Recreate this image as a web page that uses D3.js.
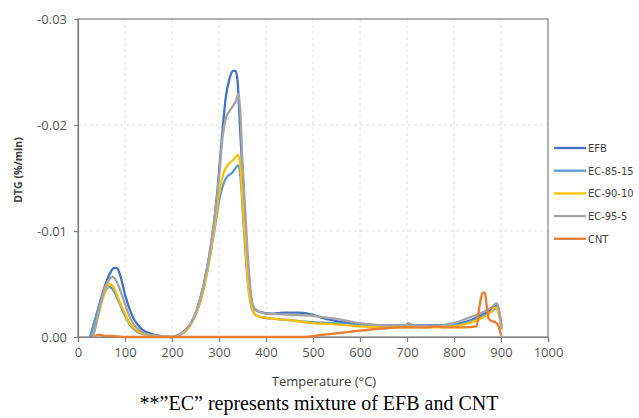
<!DOCTYPE html>
<html>
<head>
<meta charset="utf-8">
<script src="https://cdn.jsdelivr.net/npm/d3@7"></script>
<style>
  body { margin: 0; background: #fff; }
  svg { display: block; }
  .tick text { font-family: "Open Sans", sans-serif; font-size: 13px; fill: #595959; }
  .legend text { font-family: "DejaVu Sans", sans-serif; font-stretch: condensed; font-size: 11px; fill: #404040; }
</style>
</head>
<body>
<div id="chart"></div>
<script>
// series names and colours (legend order)
const seriesNames = ["EFB", "EC-85-15", "EC-90-10", "EC-95-5", "CNT"];
const seriesColors = ["#4472C4", "#5B9BD5", "#FFC000", "#A5A5A5", "#ED7D31"];

// [temperature °C, DTG %/min]
const efb = [[26,0],[40,-0.0022],[55,-0.0045],[68,-0.006],[76,-0.0065],[83,-0.0065],[90,-0.0058],[100,-0.0040],[110,-0.0026],[120,-0.0016],[130,-0.0010],[140,-0.0006],[155,-0.0003],[175,-0.0001],[200,0],[215,-0.0002],[230,-0.0007],[245,-0.0017],[260,-0.0036],[275,-0.0066],[290,-0.0110],[300,-0.0155],[308,-0.0198],[315,-0.0228],[322,-0.0243],[330,-0.0251],[335,-0.0251],[339,-0.0244],[345,-0.0195],[350,-0.0155],[357,-0.0100],[363,-0.0060],[368,-0.0037],[374,-0.0027],[385,-0.0024],[410,-0.0022],[440,-0.0023],[470,-0.0023],[500,-0.0021],[520,-0.0018],[550,-0.0015],[600,-0.0012],[650,-0.0011],[700,-0.0011],[750,-0.0011],[800,-0.0012],[830,-0.0015],[860,-0.0021],[880,-0.0026],[892,-0.0030],[897,-0.0022],[901,-0.0009]];
const ec8515 = [[26,0],[40,-0.0022],[55,-0.0040],[66,-0.0047],[72,-0.0046],[80,-0.0040],[90,-0.0030],[100,-0.0020],[110,-0.0012],[120,-0.0007],[130,-0.0004],[145,-0.0002],[170,-0.0001],[200,0],[215,-0.0002],[230,-0.0006],[245,-0.0016],[260,-0.0033],[275,-0.0062],[290,-0.0100],[300,-0.0128],[310,-0.0145],[317,-0.0151],[328,-0.0155],[336,-0.0160],[341,-0.0162],[346,-0.0150],[351,-0.0115],[357,-0.0075],[363,-0.0045],[370,-0.0027],[380,-0.0020],[400,-0.0018],[450,-0.0016],[500,-0.0014],[550,-0.0013],[600,-0.0011],[650,-0.0010],[700,-0.0010],[750,-0.0010],[800,-0.0011],[830,-0.0014],[860,-0.0019],[880,-0.0024],[890,-0.0027],[897,-0.0020],[901,-0.0008]];
const ec9010 = [[32,0],[44,-0.0022],[57,-0.0042],[67,-0.0050],[73,-0.0049],[80,-0.0043],[90,-0.0032],[100,-0.0022],[110,-0.0013],[120,-0.0008],[130,-0.0005],[145,-0.0002],[170,-0.0001],[200,0],[215,-0.0002],[230,-0.0006],[245,-0.0016],[260,-0.0033],[275,-0.0062],[290,-0.0103],[300,-0.0135],[310,-0.0155],[320,-0.0163],[330,-0.0167],[336,-0.0170],[340,-0.0172],[345,-0.0163],[350,-0.0128],[356,-0.0088],[362,-0.0050],[370,-0.0028],[380,-0.0020],[400,-0.0018],[450,-0.0016],[500,-0.0013],[550,-0.0012],[600,-0.0010],[650,-0.0009],[700,-0.0010],[750,-0.0009],[800,-0.0010],[830,-0.0013],[860,-0.0018],[880,-0.0024],[888,-0.0028],[896,-0.0020],[901,-0.0007]];
const ec955 = [[32,0],[44,-0.0023],[58,-0.0047],[68,-0.0055],[74,-0.0057],[80,-0.0054],[90,-0.0044],[100,-0.0031],[110,-0.0019],[120,-0.0011],[130,-0.0007],[145,-0.0003],[170,-0.0001],[200,0],[215,-0.0002],[230,-0.0007],[245,-0.0017],[260,-0.0036],[275,-0.0066],[290,-0.0110],[300,-0.0150],[308,-0.0190],[315,-0.0207],[322,-0.0213],[330,-0.0218],[336,-0.0223],[341,-0.0229],[345,-0.0215],[350,-0.0165],[357,-0.0110],[362,-0.0072],[367,-0.0045],[373,-0.0029],[385,-0.0024],[400,-0.0022],[450,-0.0021],[500,-0.0020],[550,-0.0017],[600,-0.0013],[650,-0.0011],[695,-0.0011],[703,-0.0013],[712,-0.0011],[750,-0.0010],[800,-0.0013],[830,-0.0018],[860,-0.0023],[880,-0.0028],[891,-0.0032],[897,-0.0022],[902,-0.0008]];
const cnt = [[35,0],[40,-0.0002],[48,-0.0002],[55,-0.0001],[70,-0.0001],[100,0],[200,0],[300,0],[400,0],[480,0],[520,-0.0002],[560,-0.0004],[600,-0.0006],[650,-0.0008],[700,-0.0009],[740,-0.0009],[760,-0.0010],[780,-0.0009],[820,-0.0009],[848,-0.0010],[852,-0.0022],[857,-0.0036],[862,-0.0042],[866,-0.0041],[870,-0.0028],[874,-0.0017],[880,-0.0015],[888,-0.0014],[894,-0.0011],[898,-0.0005],[901,-0.0001]];
const seriesData = [efb, ec8515, ec9010, ec955, cnt];

const xTicks = [0, 100, 200, 300, 400, 500, 600, 700, 800, 900, 1000];
const yTicks = [0, -0.01, -0.02, -0.03];

const W = 639, H = 418;
const m = { left: 78, right: 91, top: 19, bottom: 81 };
const iw = W - m.left - m.right, ih = H - m.top - m.bottom;

const svg = d3.select("#chart").append("svg").attr("width", W).attr("height", H);
const g = svg.append("g").attr("transform", `translate(${m.left},${m.top})`);

const x = d3.scaleLinear().domain([0, 1000]).range([0, iw]);
const y = d3.scaleLinear().domain([0, -0.03]).range([ih, 0]);

// gridlines
g.append("g").selectAll("line.vg").data(xTicks.slice(1, -1)).join("line")
  .attr("x1", d => x(d)).attr("x2", d => x(d)).attr("y1", 0).attr("y2", ih)
  .attr("stroke", "#e0e0e0").attr("stroke-dasharray", "3,3");
g.append("g").selectAll("line.hg").data(yTicks.slice(1, -1)).join("line")
  .attr("x1", 0).attr("x2", iw).attr("y1", d => y(d)).attr("y2", d => y(d))
  .attr("stroke", "#e0e0e0").attr("stroke-dasharray", "3,3");

// frame
g.append("rect").attr("width", iw).attr("height", ih).attr("fill", "none").attr("stroke", "#7f7f7f").attr("stroke-width", 1.2);

const fmtY = v => v === 0 ? "0.00" : "-" + Math.abs(v).toFixed(2);
const xAxis = g.append("g").attr("transform", `translate(0,${ih})`)
  .call(d3.axisBottom(x).tickValues(xTicks).tickFormat(d3.format("d")).tickSize(5).tickPadding(6));
const yAxis = g.append("g")
  .call(d3.axisLeft(y).tickValues(yTicks).tickFormat(fmtY).tickSize(4).tickPadding(7));
[xAxis, yAxis].forEach(a => {
  a.select(".domain").attr("stroke", "#7f7f7f").attr("stroke-width", 1.2);
  a.selectAll(".tick line").attr("stroke", "#7f7f7f").attr("stroke-width", 1.2);
});
yAxis.selectAll(".tick text").attr("dy", "0.35em");

// series lines
const line = d3.line().x(d => x(d[0])).y(d => y(d[1])).curve(d3.curveMonotoneX);
g.append("g").selectAll("path").data(seriesData).join("path")
  .attr("d", line).attr("fill", "none")
  .attr("stroke", (d, i) => seriesColors[i]).attr("stroke-width", 2.3)
  .attr("stroke-linejoin", "round");

// legend
const leg = svg.append("g").attr("class", "legend");
const li = leg.selectAll("g").data(seriesNames).join("g")
  .attr("transform", (d, i) => `translate(554,${148 + i * 22.7})`);
li.append("line").attr("x1", 0).attr("x2", 32).attr("stroke", (d, i) => seriesColors[i]).attr("stroke-width", 2.3);
li.append("text").attr("x", 34).attr("dy", "0.35em").text(d => d);

// titles
svg.append("text").attr("x", 324).attr("y", 386).attr("text-anchor", "middle")
  .style("font-family", "Open Sans, sans-serif").style("font-size", "13px").style("fill", "#404040")
  .text("Temperature (°C)");
svg.append("text").attr("transform", "translate(22,170) rotate(-90)").attr("text-anchor", "middle")
  .style("font-family", "Open Sans, sans-serif").style("font-size", "10.5px").style("font-weight", "bold").style("fill", "#404040")
  .text("DTG (%/min)");
svg.append("text").attr("x", 319).attr("y", 410).attr("text-anchor", "middle")
  .style("font-family", "Liberation Serif, Times New Roman, serif").style("font-size", "20px").style("fill", "#000")
  .text("**”EC” represents mixture of EFB and CNT");
</script>
</body>
</html>
